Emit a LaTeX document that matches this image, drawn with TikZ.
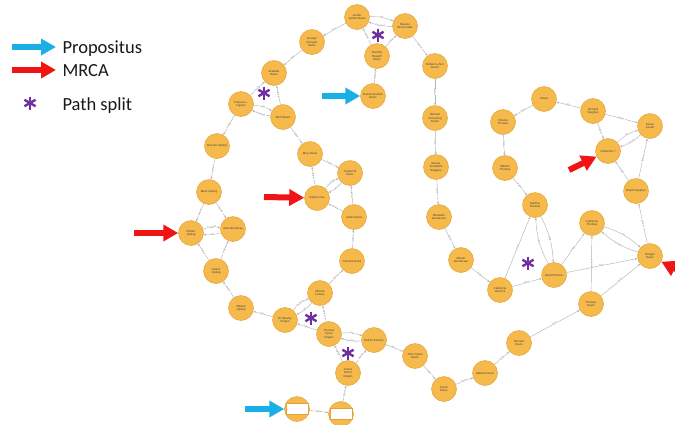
\documentclass[tikz,border=0pt]{standalone}
\usepackage{fontspec}
\setmainfont{Carlito}
\newfontfamily\nodefont{Liberation Sans}
\usetikzlibrary{arrows.meta}
\definecolor{nodefill}{HTML}{F6BA4C}
\definecolor{nodeline}{HTML}{E2A238}
\definecolor{relgray}{HTML}{B4B4B4}
\definecolor{propblue}{HTML}{1AAFE6}
\definecolor{mrcared}{HTML}{F01414}
\definecolor{splitpurple}{HTML}{7030A0}
\begin{document}
\begin{tikzpicture}[x=1pt,y=-1pt,
  person/.style={circle, fill=nodefill, draw=nodeline, line width=0.5pt,
    minimum size=25pt, inner sep=0pt, align=center,
    font=\nodefont\fontsize{2.9}{3.3}\selectfont, text=black!75},
  redacted/.style={rectangle, fill=white, draw=nodeline, line width=0.4pt,
    minimum width=22pt, minimum height=11pt, inner sep=0pt},
  rel/.style={draw=relgray, line width=0.45pt, -{Stealth[length=2.6pt,width=2.2pt]}},
  lbl/.style={font=\nodefont\fontsize{2.4}{2.4}\selectfont, text=black!55,
    fill=white, inner sep=0.4pt, sloped},
  bigarrow/.style={line width=6pt, -{Triangle[length=15pt,width=16pt]}},
  legendtext/.style={anchor=base west, font=\fontsize{18.5}{20}\selectfont, text=black!90},
  splitmark/.style={splitpurple, line width=2.4pt}
]
\useasboundingbox (0,0) rectangle (675,424);

% ---------- legend ----------
\coordinate (lb1) at (12,47);  \coordinate (lb2) at (56,47);
\coordinate (lr1) at (12,70);  \coordinate (lr2) at (56,70);
\draw[bigarrow, propblue] (lb1) -- (lb2);
\draw[bigarrow, mrcared] (lr1) -- (lr2);
\node[legendtext] (tprop) at (59,53) {Propositus};
\node[legendtext] (tmrca) at (59,76) {MRCA};
\node[legendtext] (tsplit) at (59,110) {Path split};

% ---------- people ----------
\node[person] (aus) at (357,17) {Austin\\Jordan Davis};
\node[person] (ele) at (405,26) {Eleanor\\Brown Dale};
\node[person] (dor) at (377,56) {Dorothy\\Elspeth\\Davis};
\node[person] (des) at (373,96) {Desmond Allen\\Davis};
\node[person] (geo) at (312,42) {George\\Schuyler\\Davis};
\node[person] (ara) at (274,73) {Arabella\\Davis};
\node[person] (fra) at (241,104) {Frances L.\\Ingram};
\node[person] (ter) at (283,117) {Terrill Davis};
\node[person] (mary) at (310,154) {Mary Davis};
\node[person] (rus) at (217,146) {Russell Jopling};
\node[person] (mark) at (209,192) {Mark Jopling};
\node[person] (rob) at (191,233) {Robert\\Jopling};
\node[person] (jane) at (233,229) {Jane Brockway};
\node[person] (jamj) at (216,271) {James\\Jopling};
\node[person] (wilj) at (241,308) {William\\Jopling};
\node[person] (wes) at (285,320) {W. Wesley\\Chapin};
\node[person] (alf) at (320,293) {Alfonso\\Lowery};
\node[person] (tys) at (329,334) {Thomas\\Tyson\\Chapin};
\node[person] (robe) at (374,340) {Robert E Davis};
\node[person] (jamc) at (348,373) {James\\Porter\\Chapin};
\node[person] (bl1) at (297,409) {};
\node[person] (bl2) at (341,414) {};
\node[redacted] (bl1r) at (bl1) {};
\node[redacted] (bl2r) at (bl2) {};
\node[person] (joh) at (415,356) {John Calvin\\Davis};
\node[person] (calv) at (444,389) {Calvin\\Davis};
\node[person] (wat) at (485,373) {Watson Davis};
\node[person] (rich) at (519,343) {Richard\\Davis};
\node[person] (thod) at (591,304) {Thomas\\Davis};
\node[person] (mor) at (650,256) {Morgan\\Davis};
\node[person] (catt) at (592,223) {Catherine\\Thomas};
\node[person] (dave) at (554,275) {David Elmore};
\node[person] (mar) at (535,205) {Martha\\Thomas};
\node[person] (catm) at (500,290) {Catherine\\Wenrick};
\node[person] (mir) at (461,260) {Miriam\\Gundersen};
\node[person] (eliz) at (439,217) {Elizabeth\\Gundersen};
\node[person] (bes) at (436,167) {Bessie\\Annabelle\\Hodgson};
\node[person] (mic) at (435,118) {Michael\\Armstrong\\Green};
\node[person] (reb) at (435,66) {Rebecca Ann\\Green};
\node[person] (wilt) at (505,168) {William\\Thomas};
\node[person] (cha) at (503,122) {Charles\\Thomas};
\node[person] (jam) at (544,99) {James};
\node[person] (ricv) at (593,111) {Richard\\Vaughan};
\node[person] (sus) at (650,126) {Susan\\Jarrett};
\node[person] (cat) at (608,151) {Catherine ?};
\node[person] (davv) at (636,191) {David Vaughan};
\node[person] (sop) at (317,198) {Sophia Coe};
\node[person] (jos) at (350,173) {Joseph W\\Davis};
\node[person] (jad) at (354,217) {Jaden Davis};
\node[person] (car) at (352,261) {Caroline Davis};

% ---------- relationships ----------
\draw[rel] (aus) to[bend left=12] node[lbl]{wife} (ele);
\draw[rel] (ele) to[bend left=12] node[lbl]{husband} (aus);
\draw[rel] (dor) -- node[lbl]{father} (aus);
\draw[rel] (dor) -- node[lbl]{mother} (ele);
\draw[rel] (des) -- node[lbl]{father} (dor);
\draw[rel] (aus) -- node[lbl]{father} (geo);
\draw[rel] (geo) -- node[lbl]{father} (ara);
\draw[rel] (fra) -- node[lbl]{mother} (ara);
\draw[rel] (ter) -- node[lbl]{father} (ara);
\draw[rel] (fra) to[bend left=12] node[lbl]{wife} (ter);
\draw[rel] (ter) to[bend left=12] node[lbl]{husband} (fra);
\draw[rel] (fra) -- node[lbl]{mother} (rus);
\draw[rel] (ter) -- node[lbl]{father} (mary);
\draw[rel] (rus) -- node[lbl]{father} (mark);
\draw[rel] (mark) -- node[lbl]{father} (rob);
\draw[rel] (mark) -- node[lbl]{father} (jane);
\draw[rel] (rob) to[bend left=12] node[lbl]{husband} (jane);
\draw[rel] (jane) to[bend left=12] node[lbl]{wife} (rob);
\draw[rel] (jamj) -- node[lbl]{father} (rob);
\draw[rel] (jamj) -- node[lbl]{mother} (jane);
\draw[rel] (wilj) -- node[lbl]{father} (jamj);
\draw[rel] (wes) -- node[lbl]{father} (wilj);
\draw[rel] (wes) to[bend left=12] node[lbl]{husband} (alf);
\draw[rel] (alf) to[bend left=12] node[lbl]{wife} (wes);
\draw[rel] (tys) -- node[lbl]{father} (wes);
\draw[rel] (tys) -- node[lbl]{mother} (alf);
\draw[rel] (alf) -- node[lbl]{father} (car);
\draw[rel] (car) -- node[lbl]{father} (jad);
\draw[rel] (jad) -- node[lbl]{father} (jos);
\draw[rel] (jad) -- node[lbl]{mother} (sop);
\draw[rel] (sop) to[bend left=12] node[lbl]{husband} (jos);
\draw[rel] (jos) to[bend left=12] node[lbl]{wife} (sop);
\draw[rel] (sop) -- node[lbl]{father} (mary);
\draw[rel] (mary) -- node[lbl]{father} (jos);
\draw[rel] (tys) to[bend left=12] node[lbl]{wife} (robe);
\draw[rel] (robe) to[bend left=12] node[lbl]{husband} (tys);
\draw[rel] (jamc) -- node[lbl]{father} (tys);
\draw[rel] (jamc) -- node[lbl]{mother} (robe);
\draw[rel] (bl2) -- node[lbl]{father} (jamc);
\draw[rel] (bl1) -- node[lbl]{father} (bl2);
\draw[rel] (robe) -- node[lbl]{father} (joh);
\draw[rel] (joh) -- node[lbl]{father} (calv);
\draw[rel] (calv) -- node[lbl]{father} (wat);
\draw[rel] (wat) -- node[lbl]{father} (rich);
\draw[rel] (rich) -- node[lbl]{father} (thod);
\draw[rel] (thod) -- node[lbl]{father} (mor);
\draw[rel] (thod) -- node[lbl]{mother} (catt);
\draw[rel] (catt) to[bend left=12] node[lbl]{wife} (mor);
\draw[rel] (mor) to[bend left=12] node[lbl]{husband} (catt);
\draw[rel] (dave) -- node[lbl]{father} (mor);
\draw[rel] (dave) -- node[lbl]{mother} (catt);
\draw[rel] (dave) to[bend left=12] node[lbl]{mother} (mar);
\draw[rel] (mar) to[bend left=12] node[lbl]{child} (dave);
\draw[rel] (catm) -- node[lbl]{mother} (mar);
\draw[rel] (catm) -- node[lbl]{father} (dave);
\draw[rel] (mir) -- node[lbl]{father} (catm);
\draw[rel] (eliz) -- node[lbl]{father} (mir);
\draw[rel] (bes) -- node[lbl]{father} (eliz);
\draw[rel] (mic) -- node[lbl]{father} (bes);
\draw[rel] (reb) -- node[lbl]{father} (mic);
\draw[rel] (ele) -- node[lbl]{father} (reb);
\draw[rel] (wilt) -- node[lbl]{father} (mar);
\draw[rel] (cha) -- node[lbl]{father} (wilt);
\draw[rel] (jam) -- node[lbl]{father} (cha);
\draw[rel] (ricv) -- node[lbl]{father} (jam);
\draw[rel] (ricv) -- node[lbl]{father} (sus);
\draw[rel] (ricv) -- node[lbl]{father} (cat);
\draw[rel] (cat) to[bend left=12] node[lbl]{wife} (sus);
\draw[rel] (sus) to[bend left=12] node[lbl]{husband} (cat);
\draw[rel] (davv) -- node[lbl]{mother} (cat);
\draw[rel] (davv) -- node[lbl]{father} (sus);
\draw[rel] (mor) -- node[lbl]{mother} (davv);

% ---------- markers ----------
\coordinate (p1) at (322,96);   \draw[bigarrow, propblue] (p1) -- (des);
\coordinate (p2) at (245,409);  \draw[bigarrow, propblue] (p2) -- (bl1);
\coordinate (m1) at (134,233);  \draw[bigarrow, mrcared] (m1) -- (rob);
\coordinate (m2) at (264,197);  \draw[bigarrow, mrcared] (m2) -- (sop);
\coordinate (m3) at (569,170);  \draw[bigarrow, mrcared] (m3) -- (cat);
\coordinate (m4) at (700,281);  \draw[bigarrow, mrcared] (m4) -- (mor);

\foreach \c in {(30,103),(378,35),(264,93),(311,318),(348,353),(528,263)}{
  \draw[splitmark] \c ++(0,-6.5) -- ++(0,13);
  \draw[splitmark] \c ++(-5.6,-3.25) -- ++(11.2,6.5);
  \draw[splitmark] \c ++(-5.6,3.25) -- ++(11.2,-6.5);
}
\end{tikzpicture}
\end{document}
